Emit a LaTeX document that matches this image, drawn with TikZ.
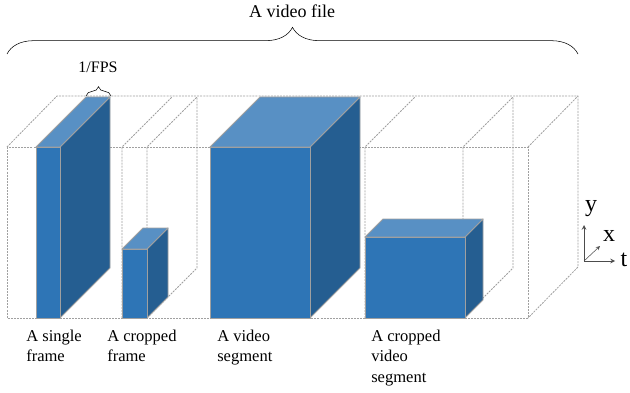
\documentclass[tikz,border=0pt]{standalone}
\usepackage{fontspec}
\setmainfont{Liberation Serif}
\usepackage{xcolor}
\usepackage{tikz}
\usetikzlibrary{arrows, decorations.pathreplacing}
\definecolor{front}{RGB}{46,117,182}
\definecolor{topc}{RGB}{88,144,196}
\definecolor{side}{RGB}{37,94,145}
\definecolor{edge}{RGB}{160,160,160}
\definecolor{guidec}{RGB}{160,160,160}
\tikzstyle{frontface} = [fill=front, draw=edge, line width=0.7pt]
\tikzstyle{topface} = [fill=topc, draw=edge, line width=0.7pt, line join=round]
\tikzstyle{sideface} = [fill=side, draw=edge, line width=0.7pt, line join=round]
\tikzstyle{guide} = [draw=guidec, line width=0.6pt, dash pattern=on 1.5pt off 0.8pt]
\tikzstyle{boxlabel} = [anchor=north west, inner sep=0pt, align=left, font=\fontsize{12.4}{15.4}\selectfont]
\tikzstyle{axisarrow} = [->, >=stealth, draw=black!70, line width=0.6pt]
\tikzstyle{axislabel} = [inner sep=0pt, font=\fontsize{18}{20}\selectfont]
% left, top, right, bottom, depth
\newcommand{\videobox}[5]{%
	\filldraw[sideface] (#3,#2) -- ++(#5,-#5) -- ++(0,#4-#2) -- (#3,#4) -- cycle;
	\filldraw[topface] (#1,#2) -- ++(#5,-#5) -- (#3+#5,#2-#5) -- (#3,#2) -- cycle;
	\filldraw[frontface] (#1,#2) rectangle (#3,#4);
}

\begin{document}
\begin{tikzpicture}[x=0.75pt, y=-0.75pt]
		\useasboundingbox (0,0) rectangle (630,392);
		
		% Guides
		\draw[guide] (7,147) rectangle (528,318);
		\draw[guide] (7,147) -- (57,96) -- (578,96) -- (578,267) -- (528,318);
		\draw[guide] (528,147) -- (578,96);
		\foreach \x in {122,147,365,463}
			\draw[guide] (\x,318) -- (\x,147) -- ++(50,-50);
		\foreach \x in {147,463}
			\draw[guide] (\x,318) -- ++(50,-50) -- ++(0,-171);
		
		% Boxes
		\videobox{36}{147}{60}{318}{50}
		\videobox{122}{249}{147}{318}{21}
		\videobox{210}{147}{310}{318}{50}
		\videobox{365}{237}{465}{318}{18}
		
		% Braces
		\draw[decorate, decoration={brace, amplitude=20pt}] (7,54) -- (578,54);
		\draw[decorate, decoration={brace, amplitude=7pt}] (86,96) -- (111,96);
		
		% Nodes
		\node (file) [anchor=base, font=\fontsize{13.5}{16}\selectfont] at (292,18) {A video file};
		\node (fps) [anchor=base, font=\fontsize{12}{14}\selectfont] at (98,73) {1/FPS};
		\node (single) [boxlabel] at (26,329.5) {A single\\frame};
		\node (cropframe) [boxlabel] at (107,329.5) {A cropped\\frame};
		\node (segment) [boxlabel] at (217,329.5) {A video\\segment};
		\node (cropsegment) [boxlabel] at (371,329.5) {A cropped\\video\\segment};
		
		% Axes
		\coordinate (origin) at (584,261);
		\coordinate (yend) at (584,225);
		\coordinate (xend) at (600,246);
		\coordinate (tend) at (615,261);
		\node (ylabel) [axislabel] at (591,209) {y};
		\node (xlabel) [axislabel] at (609,236) {x};
		\node (tlabel) [axislabel] at (624,260) {t};
		\draw [axisarrow] (origin) -- (yend);
		\draw [axisarrow] (origin) -- (tend);
		\draw [axisarrow, line width=0.4pt] (origin) -- (xend);
		
	\end{tikzpicture}
\end{document}
